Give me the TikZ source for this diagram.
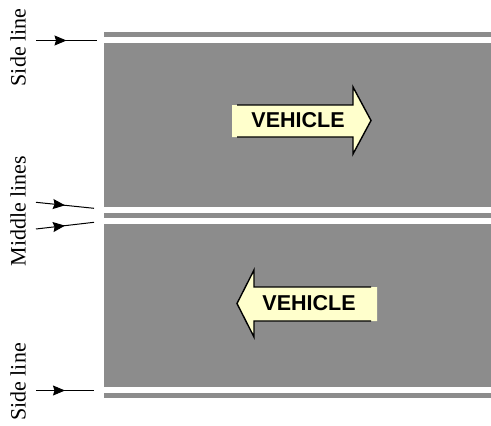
\documentclass[tikz,border=0pt]{standalone}
\usepackage{fontspec}
\setmainfont{Liberation Serif}
\newfontfamily\vehfont{Liberation Sans}
\usetikzlibrary{decorations.markings,arrows.meta}
\definecolor{road}{HTML}{8C8C8C}
\definecolor{vehfill}{HTML}{FFFFCC}
\tikzset{
  roadpart/.style={fill=road,draw=none},
  sidelabel/.style={rotate=90,font=\fontsize{22}{24}\selectfont,inner sep=0pt},
  vehlabel/.style={font=\vehfont\bfseries\fontsize{21.5}{24}\selectfont,inner sep=0pt},
  vehbody/.style={fill=vehfill,draw=none},
  vehline/.style={draw=black,line width=1.4pt,line join=miter},
  pointer/.style={line width=1pt,postaction={decorate},
    decoration={markings,mark=at position 0.5 with {\arrow{Stealth[length=12pt,width=10pt,inset=1.5pt]}}}}
}
\begin{document}
\begin{tikzpicture}[x=1pt,y=-1pt]
\useasboundingbox (0,0) rectangle (491,426);
% road surfaces and strips
\fill[roadpart] (104,32) rectangle (491,37);
\fill[roadpart] (104,43.3) rectangle (491,206.7);
\fill[roadpart] (104,213.3) rectangle (491,217.5);
\fill[roadpart] (104,223.7) rectangle (491,386.7);
\fill[roadpart] (104,393.3) rectangle (491,397.5);
% vehicle arrow right
\fill[vehbody] (232,105) -- (353,105) -- (353,87) -- (371,120.5) -- (353,154) -- (353,137) -- (232,137) -- cycle;
\draw[vehline] (237,105) -- (353,105) -- (353,87) -- (371,120.5) -- (353,154) -- (353,137) -- (237,137);
\node[vehlabel] (veh1) at (298,120.5) {VEHICLE};
% vehicle arrow left
\fill[vehbody] (377,287) -- (254,287) -- (254,270) -- (237,303.5) -- (254,337) -- (254,321) -- (377,321) -- cycle;
\draw[vehline] (371,287) -- (254,287) -- (254,270) -- (237,303.5) -- (254,337) -- (254,321) -- (371,321);
\node[vehlabel] (veh2) at (309,303.5) {VEHICLE};
% labels
\node[sidelabel] (lbltop) at (18,47.5) {Side line};
\node[sidelabel] (lblmid) at (18,211) {Middle lines};
\node[sidelabel] (lblbot) at (18,382) {Side line};
% pointer coordinates
\coordinate (s1a) at (36,40.5);
\coordinate (s1b) at (97,40.5);
\coordinate (m1a) at (36,202.3);
\coordinate (m1b) at (94,208.3);
\coordinate (m2a) at (36,229);
\coordinate (m2b) at (94,222.3);
\coordinate (s2a) at (36,390.5);
\coordinate (s2b) at (94,390.5);
\draw[pointer] (s1a) -- (s1b);
\draw[pointer] (m1a) -- (m1b);
\draw[pointer] (m2a) -- (m2b);
\draw[pointer] (s2a) -- (s2b);
\end{tikzpicture}
\end{document}
